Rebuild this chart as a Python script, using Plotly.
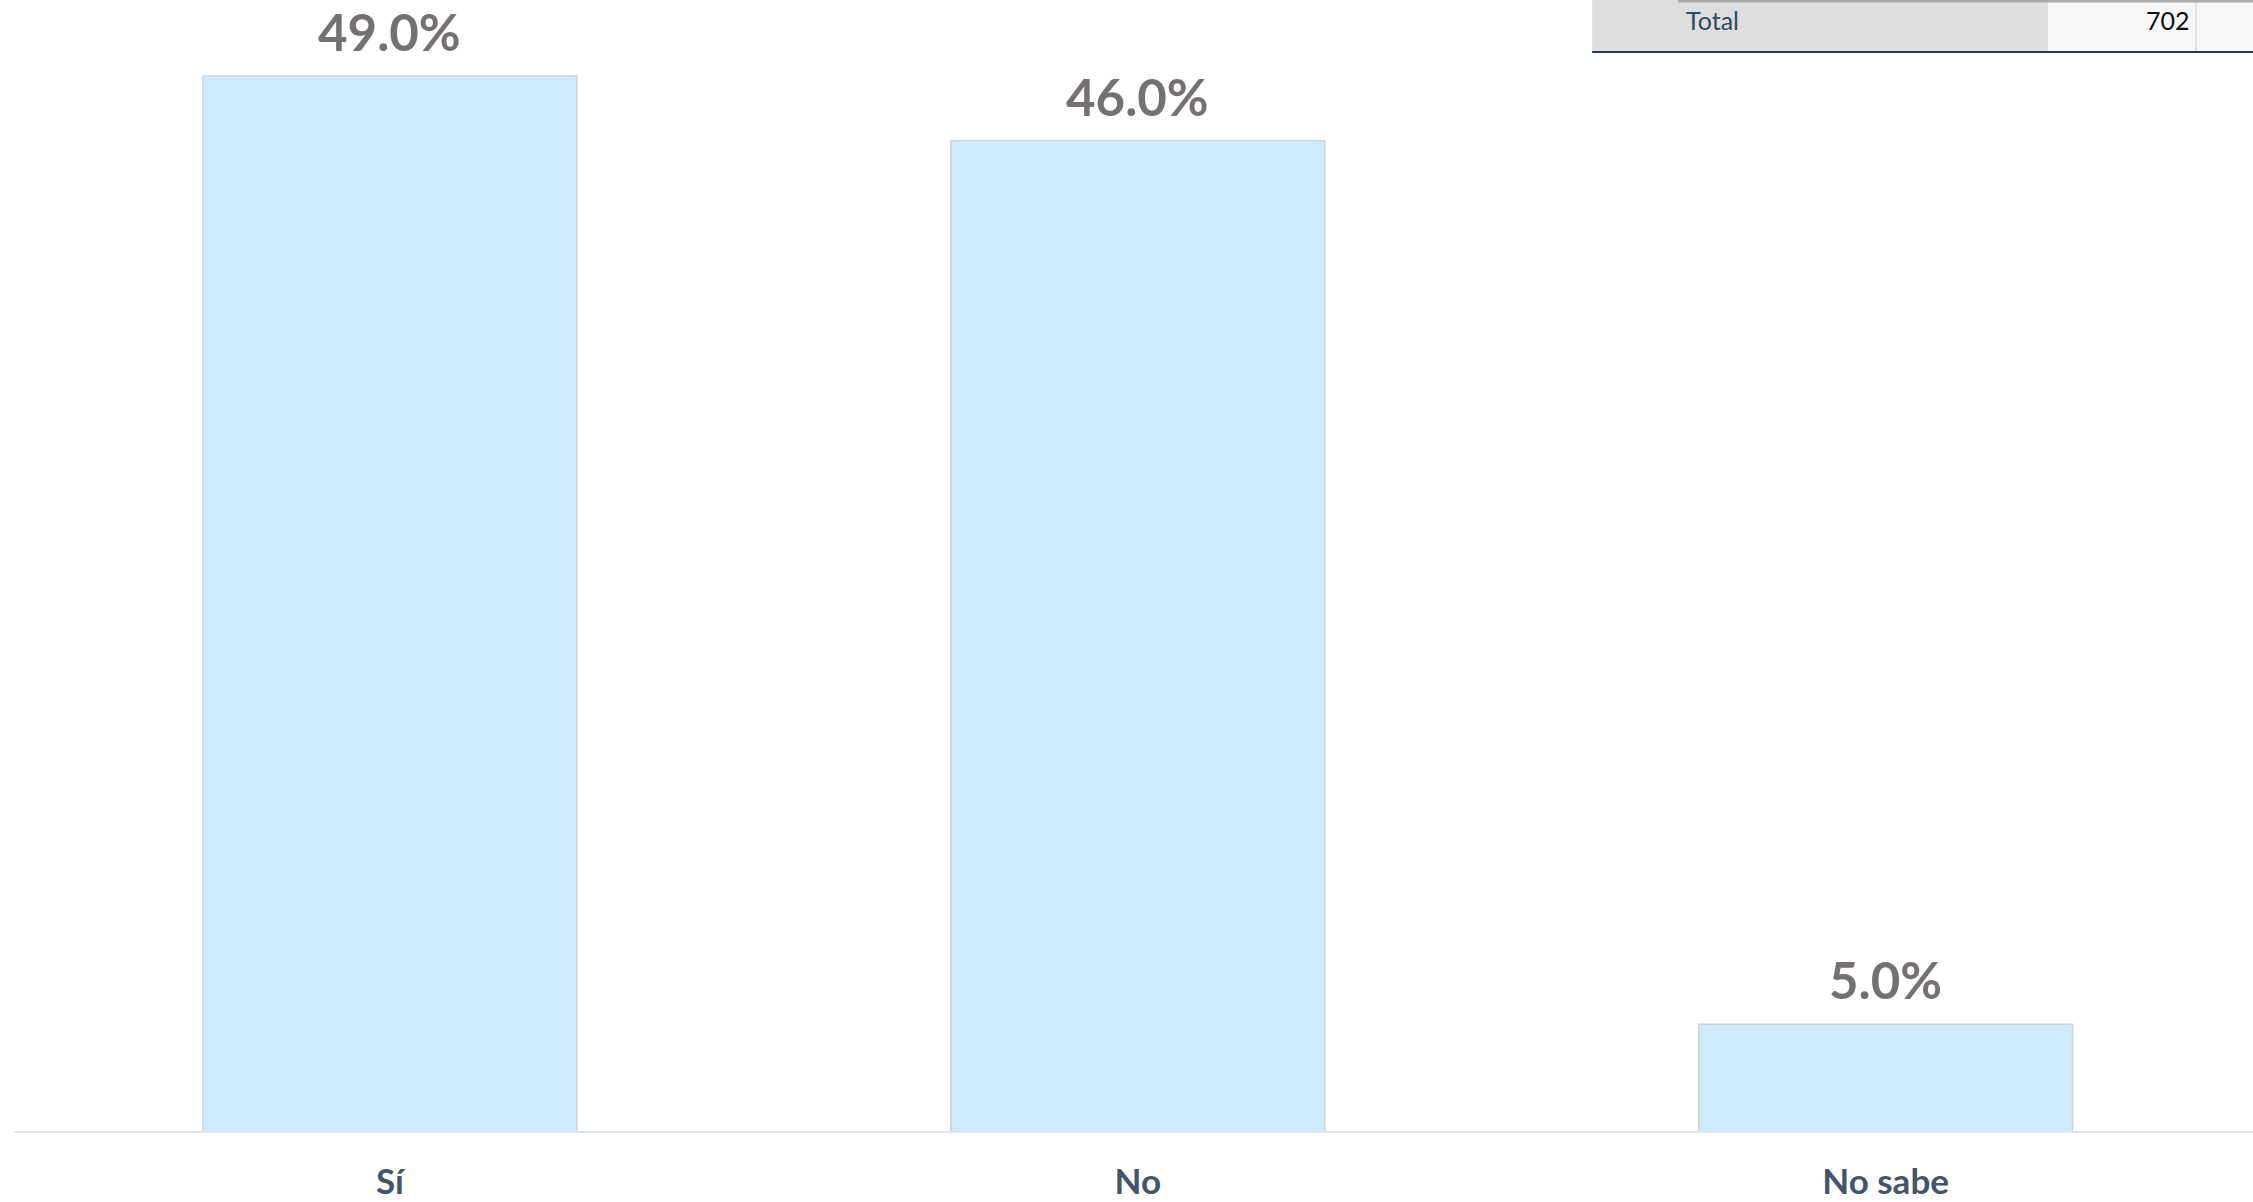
import plotly.graph_objects as go

categories = ["Sí", "No", "No sabe"]
values = [49.0, 46.0, 5.0]
table_label = "Total"
table_value = "702"

W, H = 2253, 1202
ML, MR, MT, MB = 15.5, 0, 0, 70
PW = W - ML - MR
PH = H - MT - MB
BAR_PX = 748.0  # pixels per category step

def px(x):
    return (x - ML) / PW

def py(y):
    return (PH - (y - MT)) / PH

fig = go.Figure(go.Bar(
    x=categories,
    y=values,
    width=0.5,
    marker=dict(color="#cdebfc", line=dict(color="#cfd3d7", width=1.5)),
    hoverinfo="x+y",
))

annotations = [
    dict(x=c, y=v, text=f"{v:.1f}%", xref="x", yref="y", showarrow=False,
         xanchor="center", yanchor="bottom", yshift=12,
         font=dict(family="Lato", size=51, color="#767171", weight="bold"))
    for c, v in zip(categories, values)
]

shapes = [
    dict(type="line", xref="paper", yref="paper", x0=px(14), x1=px(2253), y0=py(1132), y1=py(1132),
         line=dict(color="#dfe5ee", width=2)),
    dict(type="rect", xref="paper", yref="paper", x0=px(1592), x1=px(2048), y0=py(52), y1=py(0),
         fillcolor="#dedede", line=dict(width=0), layer="below"),
    dict(type="rect", xref="paper", yref="paper", x0=px(2048), x1=px(2195), y0=py(52), y1=py(0),
         fillcolor="#f7f7f9", line=dict(width=0), layer="below"),
    dict(type="rect", xref="paper", yref="paper", x0=px(2197), x1=px(2253), y0=py(52), y1=py(0),
         fillcolor="#f7f7f9", line=dict(width=0), layer="below"),
    dict(type="line", xref="paper", yref="paper", x0=px(2196), x1=px(2196), y0=py(52), y1=py(0),
         line=dict(color="#e2e2e2", width=2)),
    dict(type="line", xref="paper", yref="paper", x0=px(1678), x1=px(2253), y0=py(1), y1=py(1),
         line=dict(color="#ababab", width=3)),
    dict(type="line", xref="paper", yref="paper", x0=px(1592), x1=px(2253), y0=py(52), y1=py(52),
         line=dict(color="#2b3a4a", width=2)),
]

annotations += [
    dict(text=table_label, xref="paper", yref="paper", x=px(1684), y=py(20), xanchor="left", yanchor="middle",
         showarrow=False, font=dict(family="Lato", size=25, color="#2d4b63")),
    dict(text=table_value, xref="paper", yref="paper", x=px(2192), y=py(20), xanchor="right", yanchor="middle",
         showarrow=False, font=dict(family="Lato", size=25, color="#111111")),
]

x_min = -0.5
x_max = x_min + PW / BAR_PX

fig.update_layout(
    width=W, height=H,
    margin=dict(l=ML, r=MR, t=MT, b=MB, pad=0),
    plot_bgcolor="white", paper_bgcolor="white",
    showlegend=False,
    shapes=shapes,
    annotations=annotations,
    xaxis=dict(
        range=[x_min, x_max],
        showgrid=False, showline=False, zeroline=False,
        tickfont=dict(family="Lato", size=35, color="#44546a", weight="bold"),
        ticklabelstandoff=26,
        fixedrange=True,
    ),
    yaxis=dict(
        range=[0, PH / 21.55],
        showgrid=False, showline=False, zeroline=False, showticklabels=False,
        fixedrange=True,
    ),
)

fig.write_html(
    "out.html",
    config={"displayModeBar": False},
    post_script="document.body.style.margin='0';document.body.style.overflow='hidden';",
)
